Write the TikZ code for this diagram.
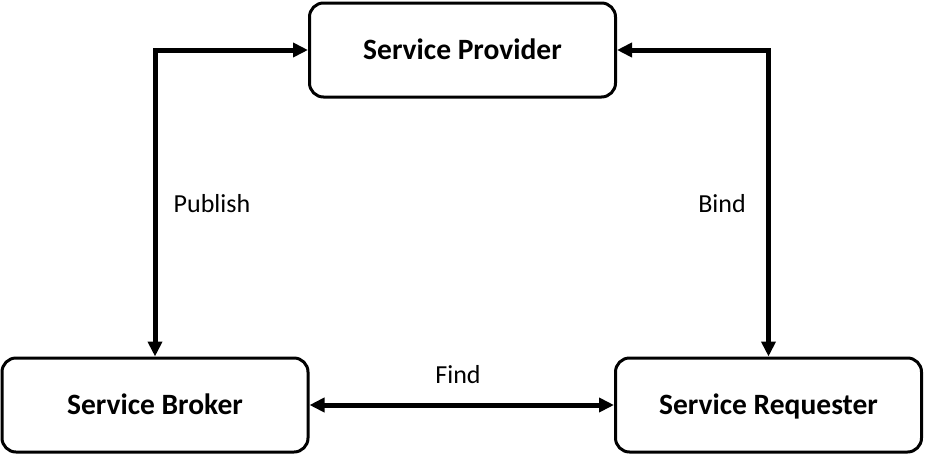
\documentclass[tikz,border=0pt]{standalone}
\usepackage{fontspec}
\setmainfont{Carlito}
\usetikzlibrary{arrows.meta}
\begin{document}
\begin{tikzpicture}[x=1pt,y=-1pt,
  svc/.style={draw=black,line width=3pt,rounded corners=14pt,minimum width=306pt,minimum height=94pt,inner sep=0pt,text height=19pt,text depth=0pt,font=\fontsize{29.5}{34}\selectfont\bfseries},
  link/.style={line width=5pt,{Triangle[length=15pt,width=14pt]}-{Triangle[length=15pt,width=14pt]}},
  lbl/.style={font=\fontsize{26}{30}\selectfont,inner sep=0pt,text height=17pt,text depth=0pt}]
\useasboundingbox (0,0) rectangle (925,455);
\node[svc] (prov) at (462.5,50) {Service Provider};
\node[svc] (brok) at (155,405) {Service Broker};
\node[svc] (req) at (768.5,405) {Service Requester};
\draw[link] (brok.north) |- (prov.west);
\draw[link] (prov.east) -| (req.north);
\draw[link] (brok.east) -- (req.west);
\node[lbl] (pub) at (212,204) {Publish};
\node[lbl] (bind) at (722,204) {Bind};
\node[lbl] (find) at (458,375) {Find};
\end{tikzpicture}
\end{document}
